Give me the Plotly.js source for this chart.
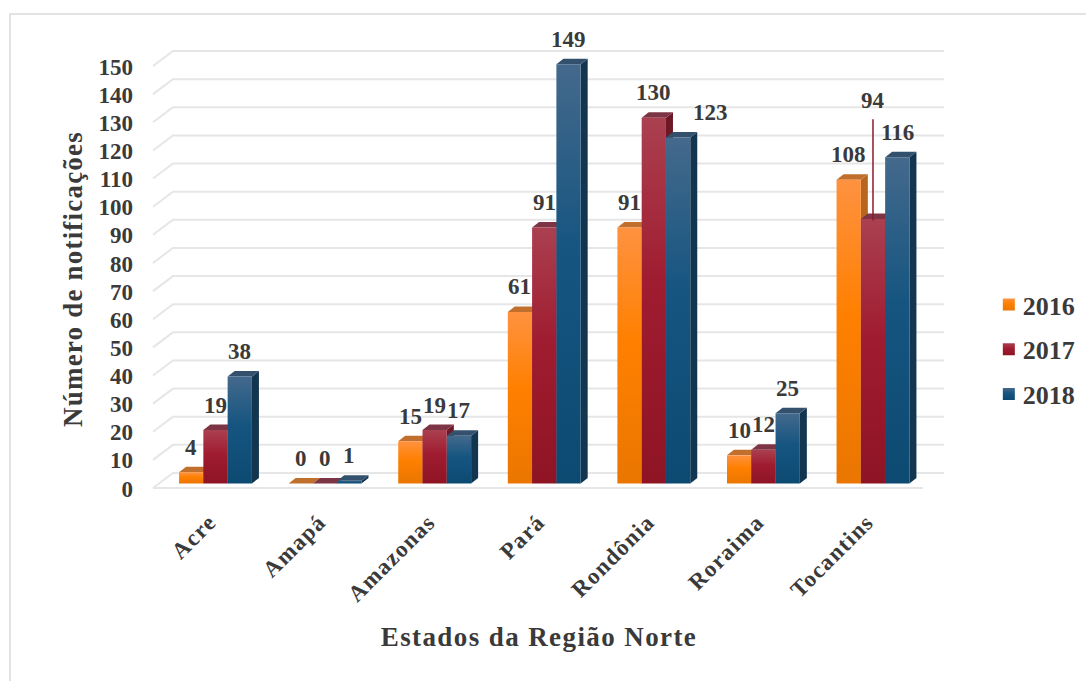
<!DOCTYPE html>
<html><head><meta charset="utf-8">
<script src="https://cdn.plot.ly/plotly-3.0.1.min.js"></script>
<style>html,body{margin:0;padding:0;background:#fff}
#frame{position:absolute;left:9px;top:13px;width:1077px;height:668px;border-left:2px solid #e3e3e3;border-top:2px solid #e3e3e3;box-sizing:border-box}
#chart{position:absolute;left:0;top:0;width:1086px;height:681px}</style>
</head><body><div id="frame"></div><div id="chart"></div>
<script>
const categories = ['Acre','Amapá','Amazonas','Pará','Rondônia','Roraima','Tocantins'];
const years = ['2016','2017','2018'];
const v2016 = [4,0,15,61,91,10,108];
const v2017 = [19,0,19,91,130,12,94];
const v2018 = [38,1,17,149,123,25,116];
const yTicks = [0,10,20,30,40,50,60,70,80,90,100,110,120,130,140,150];

const series = [v2016, v2017, v2018];
const FONT = '"Liberation Serif", serif';
const TXT = '#3a3a3a';
const TOPC = ['#c0702c','#7d3545','#33506c'];
const SIDE = ['#b8661e','#6e1826','#12364f'];
const GRAD = [['#ff9240','#ff8000','#ea7600'],['#aa4050','#a01c30','#8e1424'],['#44698c','#155580','#0d4a72']];
const BASE = ['#ff8000','#a01c30','#155580'];

const pxCat = 109.6, pxUnit = 2.813;
const bw = 0.2217, ddx = 7/pxCat, ddy = 5.5/pxUnit;
const xR = [-0.7436, 6.648], yR = [-8.71, 154.1];
const backX = -0.388, frontX = -0.5703, frontXR = 6.455, backUp = 3.73, frontDn = 1.6;

const shapes = [];
const gridLine = {color:'#e6e6e6', width:2};
yTicks.forEach(t => {
  shapes.push({type:'path', layer:'below', line:gridLine,
    path:`M ${frontX} ${t-frontDn} L ${backX} ${t+backUp} L ${xR[1]} ${t+backUp}`});
});
shapes.push({type:'line', layer:'below', line:gridLine, x0:frontX, x1:frontXR, y0:-frontDn, y1:-frontDn});

series.forEach((vals,s) => vals.forEach((v,c) => {
  const xl = c + (s-1.5)*bw, xr = xl + bw;
  shapes.push({type:'path', layer:'below', line:{width:0}, fillcolor:SIDE[s],
    path:`M ${xr} ${v} L ${xr+ddx} ${v+ddy} L ${xr+ddx} ${ddy} L ${xr} 0 Z`});
  shapes.push({type:'path', layer:'below', line:{width:0}, fillcolor:TOPC[s],
    path:`M ${xl} ${v} L ${xl+ddx} ${v+ddy} L ${xr+ddx} ${v+ddy} L ${xr} ${v} Z`});
}));
// leader line of the 94 label
shapes.push({type:'line', layer:'above', line:{color:'#8e1a2c', width:1.5}, x0:6, x1:6, y0:v2017[6]-0.5, y1:v2017[6]+35.5});

const labelShift = {'2,4':{dx:32, dy:25}, '1,6':{dx:0, dy:119}};
const annotations = [];
series.forEach((vals,s) => vals.forEach((v,c) => {
  const o = labelShift[s+','+c] || {dx:0, dy:25};
  annotations.push({x:c+(s-1)*bw, y:v, text:String(v), showarrow:false, xanchor:'center', yanchor:'middle',
    xshift:o.dx, yshift:o.dy, font:{family:FONT, size:23, color:TXT, weight:700}});
}));

const traces = series.map((vals,s) => ({
  type:'bar', name:years[s], x:categories, y:vals, legendgroup:years[s],
  marker:{color:BASE[s], line:{width:0}}, hoverinfo:'x+y+name'
}));

const layout = {
  width:1086, height:681, showlegend:true, barmode:'group', bargap:0.335, bargroupgap:0,
  paper_bgcolor:'rgba(0,0,0,0)', plot_bgcolor:'rgba(0,0,0,0)',
  margin:{l:134, r:142, t:50, b:173},
  font:{family:FONT, color:TXT},
  xaxis:{type:'category', categoryorder:'array', categoryarray:categories, range:xR, showgrid:false, zeroline:false, showline:false, ticks:'',
    tickangle:-45, ticklabelstandoff:-5, ticklabelshift:-6, tickfont:{family:FONT, size:23, color:TXT, weight:700}, automargin:false,
    title:{text:'Estados da Região Norte', standoff:28, font:{family:FONT, size:27, color:TXT, weight:700}}},
  yaxis:{range:yR, tickvals:yTicks, showgrid:false, zeroline:false, showline:false, ticks:'', ticklabelshift:5,
    tickfont:{family:FONT, size:23, color:TXT, weight:700}, automargin:false,
    title:{text:'Número de notificações', standoff:8, font:{family:FONT, size:27, color:TXT, weight:700}}},
  legend:{x:0.905, xref:'container', xanchor:'left', y:0.5873, yref:'container', yanchor:'top', traceorder:'grouped', tracegroupgap:8,
    font:{family:FONT, size:26, color:TXT, weight:700}, bgcolor:'rgba(0,0,0,0)'},
  shapes, annotations
};

Plotly.newPlot('chart', traces, layout, {displayModeBar:false, staticPlot:true}).then(gd => {
  const svg = gd.querySelector('.main-svg');
  const NS = 'http://www.w3.org/2000/svg';
  const defs = svg.querySelector('defs');
  GRAD.forEach((g,i) => {
    const lg = document.createElementNS(NS,'linearGradient');
    lg.setAttribute('id','barGrad'+i); lg.setAttribute('x1','0'); lg.setAttribute('y1','0'); lg.setAttribute('x2','0'); lg.setAttribute('y2','1');
    [[0,g[0]],[0.45,g[1]],[1,g[2]]].forEach(p => {
      const st = document.createElementNS(NS,'stop');
      st.setAttribute('offset',p[0]); st.setAttribute('stop-color',p[1]); lg.appendChild(st);
    });
    defs.appendChild(lg);
  });
  gd.querySelectorAll('.barlayer .trace').forEach((t,i) => {
    t.querySelectorAll('path').forEach(p => { p.style.fill = `url(#barGrad${i})`; });
  });
  gd.querySelectorAll('.legend .traces').forEach((t,i) => {
    t.querySelectorAll('.legendpoints path').forEach(p => { p.style.fill = `url(#barGrad${i})`; });
    const lp = t.querySelector('.legendpoints');
    if (lp) lp.setAttribute('transform','translate(6,0)');
  });
  gd.querySelectorAll('.xtitle').forEach(e => { e.style.letterSpacing = '1.4px'; });
  gd.querySelectorAll('.ytitle').forEach(e => { e.style.letterSpacing = '1.2px'; });
  gd.querySelectorAll('.xaxislayer-above .xtick text').forEach(e => { e.style.letterSpacing = '1.3px'; });
});
</script></body></html>
